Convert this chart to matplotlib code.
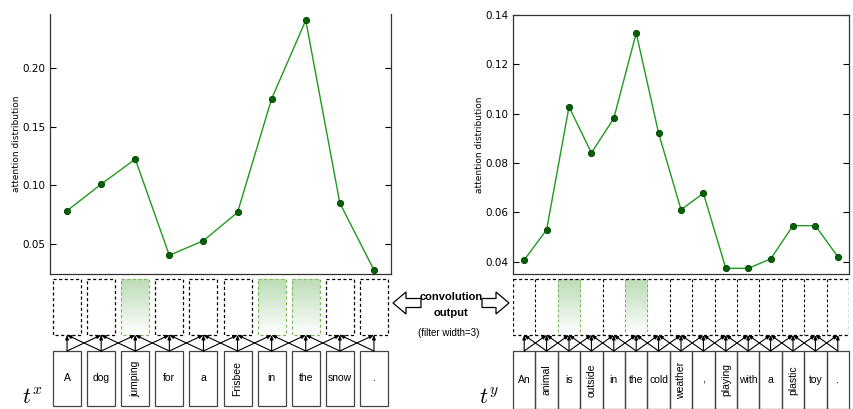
import matplotlib
matplotlib.use("Agg")
import matplotlib.pyplot as plt
import numpy as np
from matplotlib.patches import Rectangle, FancyArrow
from matplotlib.colors import LinearSegmentedColormap

# attention values
tokens_x = ["A", "dog", "jumping", "for", "a", "Frisbee", "in", "the", "snow", "."]
attn_x = [0.0784, 0.101, 0.1224, 0.0404, 0.0529, 0.077, 0.1738, 0.2406, 0.0849, 0.0279]
highlight_x = [2, 6, 7]

tokens_y = ["An", "animal", "is", "outside", "in", "the", "cold", "weather", ",",
            "playing", "with", "a", "plastic", "toy", "."]
attn_y = [0.0407, 0.0529, 0.1028, 0.0841, 0.0981, 0.1327, 0.0921, 0.0611, 0.0677,
          0.0373, 0.0373, 0.0411, 0.0546, 0.0546, 0.042]
highlight_y = [2, 5]

rotated = {"jumping", "Frisbee", "animal", "outside", "weather", "playing", "plastic"}

plt.rcParams["mathtext.fontset"] = "cm"
SANS = "Liberation Sans"

W, H = 854, 409
fig = plt.figure(figsize=(W / 100, H / 100), dpi=100)


def px_axes(x0, y0, x1, y1):
    # pixel box (top-left origin) -> figure axes
    return fig.add_axes([x0 / W, 1 - y1 / H, (x1 - x0) / W, (y1 - y0) / H])


green_cmap = LinearSegmentedColormap.from_list("g", ["#bcdcb6", "#ffffff"])
grad = np.linspace(0, 1, 50).reshape(-1, 1)


def attention_plot(ax, vals, ylim, yticks, top_spine=True):
    n = len(vals)
    ax.plot(range(n), vals, "-", color="#1f9a1f", lw=1.0, marker="o", ms=4.5,
            mfc="#006400", mec="#003a00", mew=0.6)
    ax.set_xlim(-0.5, n - 0.5)
    ax.set_ylim(*ylim)
    ax.set_yticks(yticks)
    ax.set_yticklabels(["%.2f" % t for t in yticks])
    ax.set_xticks([])
    ax.tick_params(axis="y", direction="in", right=True, labelsize=7.5, length=4, pad=3)
    ax.set_ylabel("attention distribution", fontsize=6.5, labelpad=1)
    for s in ax.spines.values():
        s.set_color("#333333")
        s.set_linewidth(0.9)
    ax.spines["top"].set_visible(top_spine)


def diagram(ax, tokens, highlight, box_w, separate):
    n = len(tokens)
    conv_top, conv_bot = 279, 335
    word_top = 351
    word_bot = 406 if separate else 409
    # convolution output boxes
    if separate:
        for i in range(n):
            hl = i in highlight
            if hl:
                ax.imshow(grad, cmap=green_cmap, aspect="auto", zorder=1,
                          extent=(i - box_w / 2, i + box_w / 2, conv_bot, conv_top))
            ax.add_patch(Rectangle((i - box_w / 2, conv_top), box_w, conv_bot - conv_top,
                                   fill=False, ls=(0, (2.5, 2)), lw=0.9, zorder=2,
                                   ec="#7dbb5a" if hl else "black"))
    else:
        for i in highlight:
            ax.imshow(grad, cmap=green_cmap, aspect="auto", zorder=1,
                      extent=(i - 0.5, i + 0.5, conv_bot, conv_top))
        ax.add_patch(Rectangle((-0.5, conv_top), n, conv_bot - conv_top, fill=False,
                               ls=(0, (2.5, 2)), lw=0.9, ec="black", zorder=2))
        for i in range(1, n):
            hl = (i in highlight) or (i - 1 in highlight)
            ax.plot([i - 0.5, i - 0.5], [conv_top, conv_bot], ls=(0, (2.5, 2)), lw=0.8,
                    color="#7dbb5a" if hl else "black", zorder=2)
    # word boxes
    for i, t in enumerate(tokens):
        if separate:
            ax.add_patch(Rectangle((i - box_w / 2, word_top), box_w, word_bot - word_top,
                                   fill=False, lw=0.9, ec="#444444"))
        else:
            ax.add_patch(Rectangle((i - 0.5, word_top), 1, word_bot - word_top,
                                   fill=False, lw=0.9, ec="#444444", clip_on=False))
        rot = 90 if t in rotated else 0
        ax.text(i, (word_top + word_bot) / 2, t, ha="center", va="center",
                rotation=rot, fontsize=7.5, family=SANS)
    # filter connections
    for i in range(n):
        for j in (i - 1, i, i + 1):
            if 0 <= j < n:
                ax.annotate("", xy=(j, conv_bot), xytext=(i, word_top),
                            arrowprops=dict(arrowstyle="-|>,head_length=0.25,head_width=0.1",
                                            lw=0.8, color="black", shrinkA=0, shrinkB=0))
    ax.set_aspect("auto")
    ax.set_xlim(-0.5, n - 0.5)
    ax.set_ylim(409, 270)
    ax.axis("off")


ax1 = px_axes(50, 14, 391, 274)
attention_plot(ax1, attn_x, (0.0245, 0.246), [0.05, 0.10, 0.15, 0.20], top_spine=False)
ax2 = px_axes(513, 15, 849, 274)
attention_plot(ax2, attn_y, (0.035, 0.14), [0.04, 0.06, 0.08, 0.10, 0.12, 0.14])

d1 = px_axes(50, 270, 391, 409)
diagram(d1, tokens_x, highlight_x, 0.82, True)
d2 = px_axes(513, 270, 849, 409)
diagram(d2, tokens_y, highlight_y, 1.0, False)

# middle annotation and labels in pixel coordinates
ov = fig.add_axes([0, 0, 1, 1])
ov.set_xlim(0, W)
ov.set_ylim(H, 0)
ov.axis("off")
ov.patch.set_alpha(0)
ov.add_patch(FancyArrow(421, 303, -28, 0, width=9, head_width=22, head_length=13,
                        length_includes_head=True, fc="white", ec="black", lw=0.9))
ov.add_patch(FancyArrow(482, 303, 27, 0, width=9, head_width=22, head_length=13,
                        length_includes_head=True, fc="white", ec="black", lw=0.9))
ov.text(451, 297, "convolution", ha="center", va="center", fontsize=8,
        fontweight="bold", family=SANS)
ov.text(451, 313, "output", ha="center", va="center", fontsize=8,
        fontweight="bold", family=SANS)
ov.text(449, 333, "(filter width=3)", ha="center", va="center", fontsize=7, family=SANS)
ov.text(32, 398, r"$t^x$", ha="center", va="center", fontsize=16)
ov.text(489, 398, r"$t^y$", ha="center", va="center", fontsize=16)

fig.savefig("out.png", dpi=100)
